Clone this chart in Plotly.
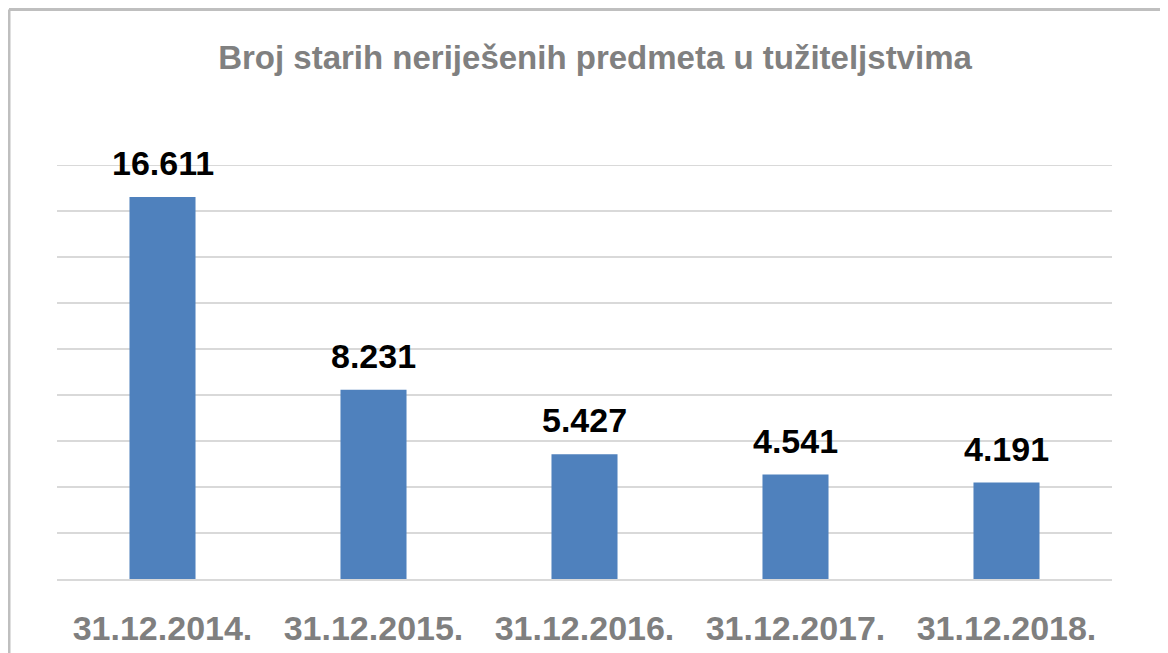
import plotly.graph_objects as go

dates = ["31.12.2014.", "31.12.2015.", "31.12.2016.", "31.12.2017.", "31.12.2018."]
predmeti = [16611, 8231, 5427, 4541, 4191]
labels = ["16.611", "8.231", "5.427", "4.541", "4.191"]

# stranica ima 8px margine, pa je slika manja i pomaknuta
W, H = 1160, 645
L, R, T, B = 49, 56, 157, 74
pw, ph = W - L - R, H - T - B

fig = go.Figure()
fig.add_trace(go.Bar(
    x=dates, y=predmeti,
    marker=dict(color="#4F81BD", line=dict(width=0)),
    width=0.313,
    hoverinfo="skip",
))

for d, v, t in zip(dates, predmeti, labels):
    fig.add_annotation(
        x=d, y=v, text="<b>" + t + "</b>", showarrow=False,
        yanchor="middle", yshift=34,
        font=dict(family="Liberation Sans", size=34, color="#000000"),
    )

# gornja linija mreže (plotly je ne crta na samom rubu)
fig.add_hline(y=18000, line=dict(color="#D9D9D9", width=2), layer="below")

# okvir grafikona (vidljivi lijevi i gornji rub)
fx = (1 - L) / pw
fy = (H - B - 1.5) / ph
fig.add_shape(type="line", xref="paper", yref="paper", x0=fx, x1=(W + 20 - L) / pw, y0=fy, y1=fy,
              line=dict(color="#BFBFBF", width=3))
fig.add_shape(type="line", xref="paper", yref="paper", x0=fx, x1=fx, y0=fy, y1=(-B - 20) / ph,
              line=dict(color="#BFBFBF", width=3))

fig.update_layout(
    width=W, height=H,
    margin=dict(l=L, r=R, t=T, b=B, pad=0, autoexpand=False),
    paper_bgcolor="white", plot_bgcolor="white",
    showlegend=False,
    bargap=0.687,
    title=dict(
        text="<b>Broj starih neriješenih predmeta u tužiteljstvima</b>",
        x=587 / W, xanchor="center", y=1 - 49 / H, yanchor="middle",
        font=dict(family="Liberation Sans", size=33, color="#808080"),
    ),
    xaxis=dict(
        showgrid=False, showline=True, linecolor="#D9D9D9", linewidth=2,
        ticks="outside", ticklen=18, tickcolor="rgba(0,0,0,0)", automargin=False,
        tickfont=dict(family="Liberation Sans", size=34, color="#7F7F7F", weight="bold"),
    ),
    yaxis=dict(
        range=[0, 18000], tickvals=list(range(2000, 18001, 2000)), showticklabels=False,
        showgrid=True, gridcolor="#D9D9D9", gridwidth=2,
        zeroline=False, showline=False, automargin=False,
    ),
)

fig.write_html("out.html")
